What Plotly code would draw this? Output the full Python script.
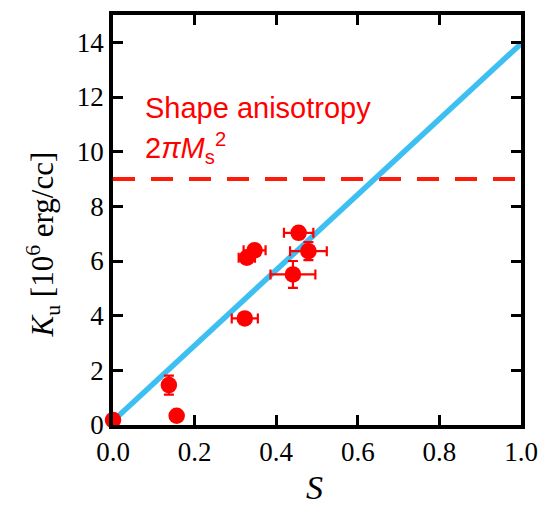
import plotly.graph_objects as go

# Data
S = [0.0, 0.156, 0.137, 0.323, 0.328, 0.347, 0.455, 0.479, 0.441]
Ku = [0.18, 0.34, 1.46, 3.9, 6.12, 6.39, 7.03, 6.36, 5.51]
S_err = [0.0, 0.0, 0.01, 0.032, 0.02, 0.027, 0.036, 0.045, 0.055]
Ku_err = [0.0, 0.0, 0.35, 0.15, 0.2, 0.2, 0.2, 0.33, 0.49]

fit_S = [0.0, 1.0]
fit_Ku = [0.15, 13.95]

shape_S = [0.0, 1.0]
shape_Ku = [9.0, 9.0]

x_ticks = [0.0, 0.2, 0.4, 0.6, 0.8, 1.0]
y_ticks = [0, 2, 4, 6, 8, 10, 12, 14]

RED = "#ff0000"
BLUE = "#3dbff2"

fig = go.Figure()

fig.add_trace(go.Scatter(
    x=shape_S, y=shape_Ku, mode="lines",
    line=dict(color="#ff1a0a", width=4, dash="22px,16px"),
    showlegend=False, hoverinfo="skip",
))

fig.add_trace(go.Scatter(
    x=fit_S, y=fit_Ku, mode="lines",
    line=dict(color=BLUE, width=5.5),
    showlegend=False, hoverinfo="skip",
))

fig.add_trace(go.Scatter(
    x=S, y=Ku, mode="markers",
    marker=dict(color=RED, size=16.5, line=dict(width=0)),
    error_x=dict(type="data", array=S_err, color=RED, thickness=2.2, width=5),
    error_y=dict(type="data", array=Ku_err, color=RED, thickness=2.2, width=5),
    cliponaxis=False,
    showlegend=False,
))

serif = "Liberation Serif, Times New Roman, serif"

# The page body has an 8px margin, so the figure is sized to fit the window.
fig.update_layout(
    width=540, height=497,
    margin=dict(l=105, r=27, t=7, b=80),
    paper_bgcolor="white", plot_bgcolor="white",
    font=dict(family=serif, color="black", size=27),
    xaxis=dict(
        range=[0, 1], tickvals=x_ticks, ticktext=[f"{v:.1f}" for v in x_ticks],
        ticks="inside", ticklen=10, tickwidth=3, tickcolor="black",
        showline=True, linewidth=3.5, linecolor="black", mirror="ticks",
        showgrid=False, zeroline=False, automargin=False,
        tickfont=dict(family=serif, size=27, color="black"),
    ),
    yaxis=dict(
        range=[0, 15], tickvals=y_ticks, ticktext=[str(v) for v in y_ticks],
        ticks="inside", ticklen=10, tickwidth=3, tickcolor="black",
        showline=True, linewidth=3.5, linecolor="black", mirror="ticks",
        showgrid=False, zeroline=False, automargin=False,
        tickfont=dict(family=serif, size=27, color="black"),
    ),
)

# Axis titles
fig.add_annotation(
    x=-0.172, y=0.44, xref="paper", yref="paper", xanchor="center", yanchor="middle",
    text="<i>K</i><sub>u</sub> [10<sup>6</sup> erg/cc]", textangle=-90, showarrow=False,
    font=dict(family=serif, size=31, color="black"),
)
fig.add_annotation(
    x=0.495, y=-0.152, xref="paper", yref="paper", xanchor="center", yanchor="middle",
    text="<i>S</i>", showarrow=False,
    font=dict(family=serif, size=34, color="black"),
)

sans = "Liberation Sans, Arial, sans-serif"
fig.add_annotation(
    x=0.073, y=11.6, xref="x", yref="y", xanchor="left", yanchor="middle",
    text="Shape anisotropy", showarrow=False,
    font=dict(family=sans, size=29, color=RED),
)
fig.add_annotation(
    x=0.073, y=10.15, xref="x", yref="y", xanchor="left", yanchor="middle",
    text="2<i>π</i><i>M</i><sub>s</sub><sup>2</sup>", showarrow=False,
    font=dict(family=sans, size=29, color=RED),
)

fig.write_html("out.html")
